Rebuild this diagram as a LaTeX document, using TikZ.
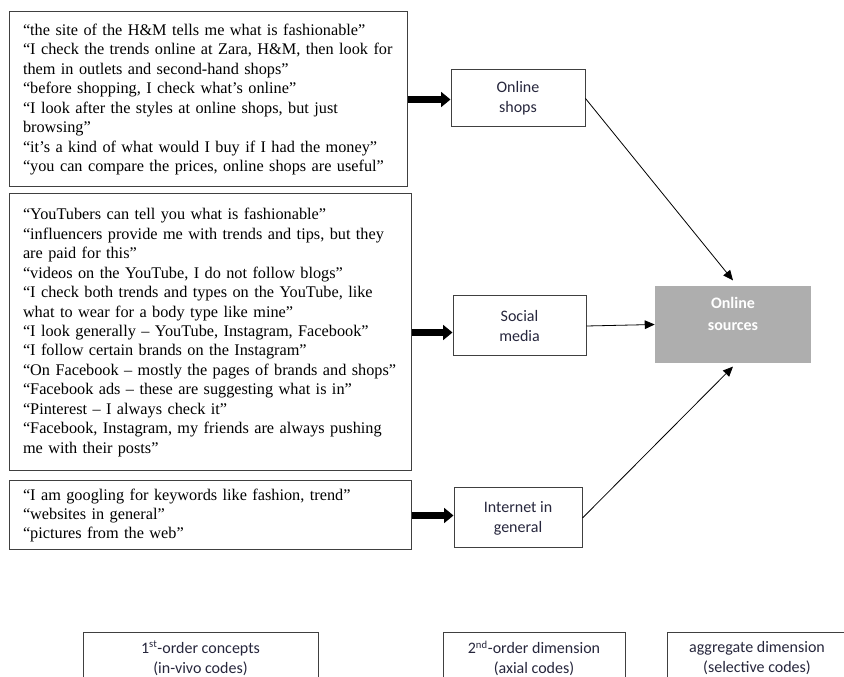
\documentclass[tikz,border=0pt]{standalone}
\usepackage{fontspec}
\setmainfont{Liberation Serif}
\setsansfont{Carlito}
\usepackage{tikz}
\usetikzlibrary{arrows.meta,positioning,calc}
\usepackage{xcolor}
\definecolor{codegrey}{RGB}{174,174,174}
\definecolor{boxline}{RGB}{64,64,64}
\definecolor{codetext}{RGB}{38,38,60}

\begin{document}
\begin{tikzpicture}[x=0.75pt, y=-0.75pt,
    quotes/.style={rectangle, draw=boxline, line width=0.75pt, align=left,
                   inner xsep=10.5pt, font=\fontsize{12.2}{14.6}\selectfont},
    code/.style={rectangle, draw=boxline, line width=0.75pt, align=center,
                 text=codetext, font=\sffamily\fontsize{12}{15}\selectfont},
    aggregate/.style={rectangle, fill=codegrey, align=center, text=white,
                 font=\sffamily\bfseries\fontsize{12}{16.5}\selectfont},
    legend/.style={code, anchor=north, minimum height=39pt},
    fat/.style={-{Triangle[length=7pt, width=11pt]}, line width=5pt, black},
    thin/.style={-{Triangle[length=7.5pt, width=6.5pt]}, line width=0.6pt, black}
]
\useasboundingbox (0,0) rectangle (844,677);

\node[quotes, text width=277.5pt, minimum height=131.25pt] (q1) at (208,99.5) {%
    “the site of the H\&M tells me what is fashionable”\\
    “I check the trends online at Zara, H\&M, then look for\\
    them in outlets and second-hand shops”\\
    “before shopping, I check what’s online”\\
    “I look after the styles at online shops, but just\\
    browsing”\\
    “it’s a kind of what would I buy if I had the money”\\
    “you can compare the prices, online shops are useful”};
\node[quotes, text width=280.5pt, minimum height=207.75pt] (q2) at (210,332.5) {%
    “YouTubers can tell you what is fashionable”\\
    “influencers provide me with trends and tips, but they\\
    are paid for this”\\
    “videos on the YouTube, I do not follow blogs”\\
    “I check both trends and types on the YouTube, like\\
    what to wear for a body type like mine”\\
    “I look generally – YouTube, Instagram, Facebook”\\
    “I follow certain brands on the Instagram”\\
    “On Facebook – mostly the pages of brands and shops”\\
    “Facebook ads – these are suggesting what is in”\\
    “Pinterest – I always check it”\\
    “Facebook, Instagram, my friends are always pushing\\
    me with their posts”};
\node[quotes, text width=280.5pt, minimum height=51.75pt] (q3) at (210,515.5) {%
    “I am googling for keywords like fashion, trend”\\
    “websites in general”\\
    “pictures from the web”};

\node[code, minimum width=100.5pt, minimum height=42.75pt] (shops) at (518,98.5) {Online\\shops};
\node[code, minimum width=99.75pt, minimum height=45pt] (social) at (519.5,326) {Social\\media};
\node[code, minimum width=96pt, minimum height=45pt] (internet) at (518,518) {Internet in\\general};

\node[aggregate, minimum width=117pt, minimum height=57.75pt] (sources) at (733,324.5) {Online\\sources\\\mbox{}};

\draw[fat] (q1.east) -- (q1.east -| shops.west);
\draw[fat] (q2.east) -- (q2.east -| social.west);
\draw[fat] (q3.east) -- (q3.east -| internet.west);

\draw[thin] (shops.east) -- ([yshift=4pt]sources.north);
\draw[thin] (social.east) -- (sources.west);
\draw[thin] (internet.east) -- ([yshift=-2.5pt]sources.south);

\node[legend, minimum width=176.25pt] (first) at (200.5,632) {1\textsuperscript{st}-order concepts\\(in-vivo codes)};
\node[legend, minimum width=136.5pt] (second) at (534,632) {2\textsuperscript{nd}-order dimension\\(axial codes)};
\node[legend, minimum width=135pt] (third) at (757,632) {aggregate dimension\\(selective codes)};
\end{tikzpicture}
\end{document}
